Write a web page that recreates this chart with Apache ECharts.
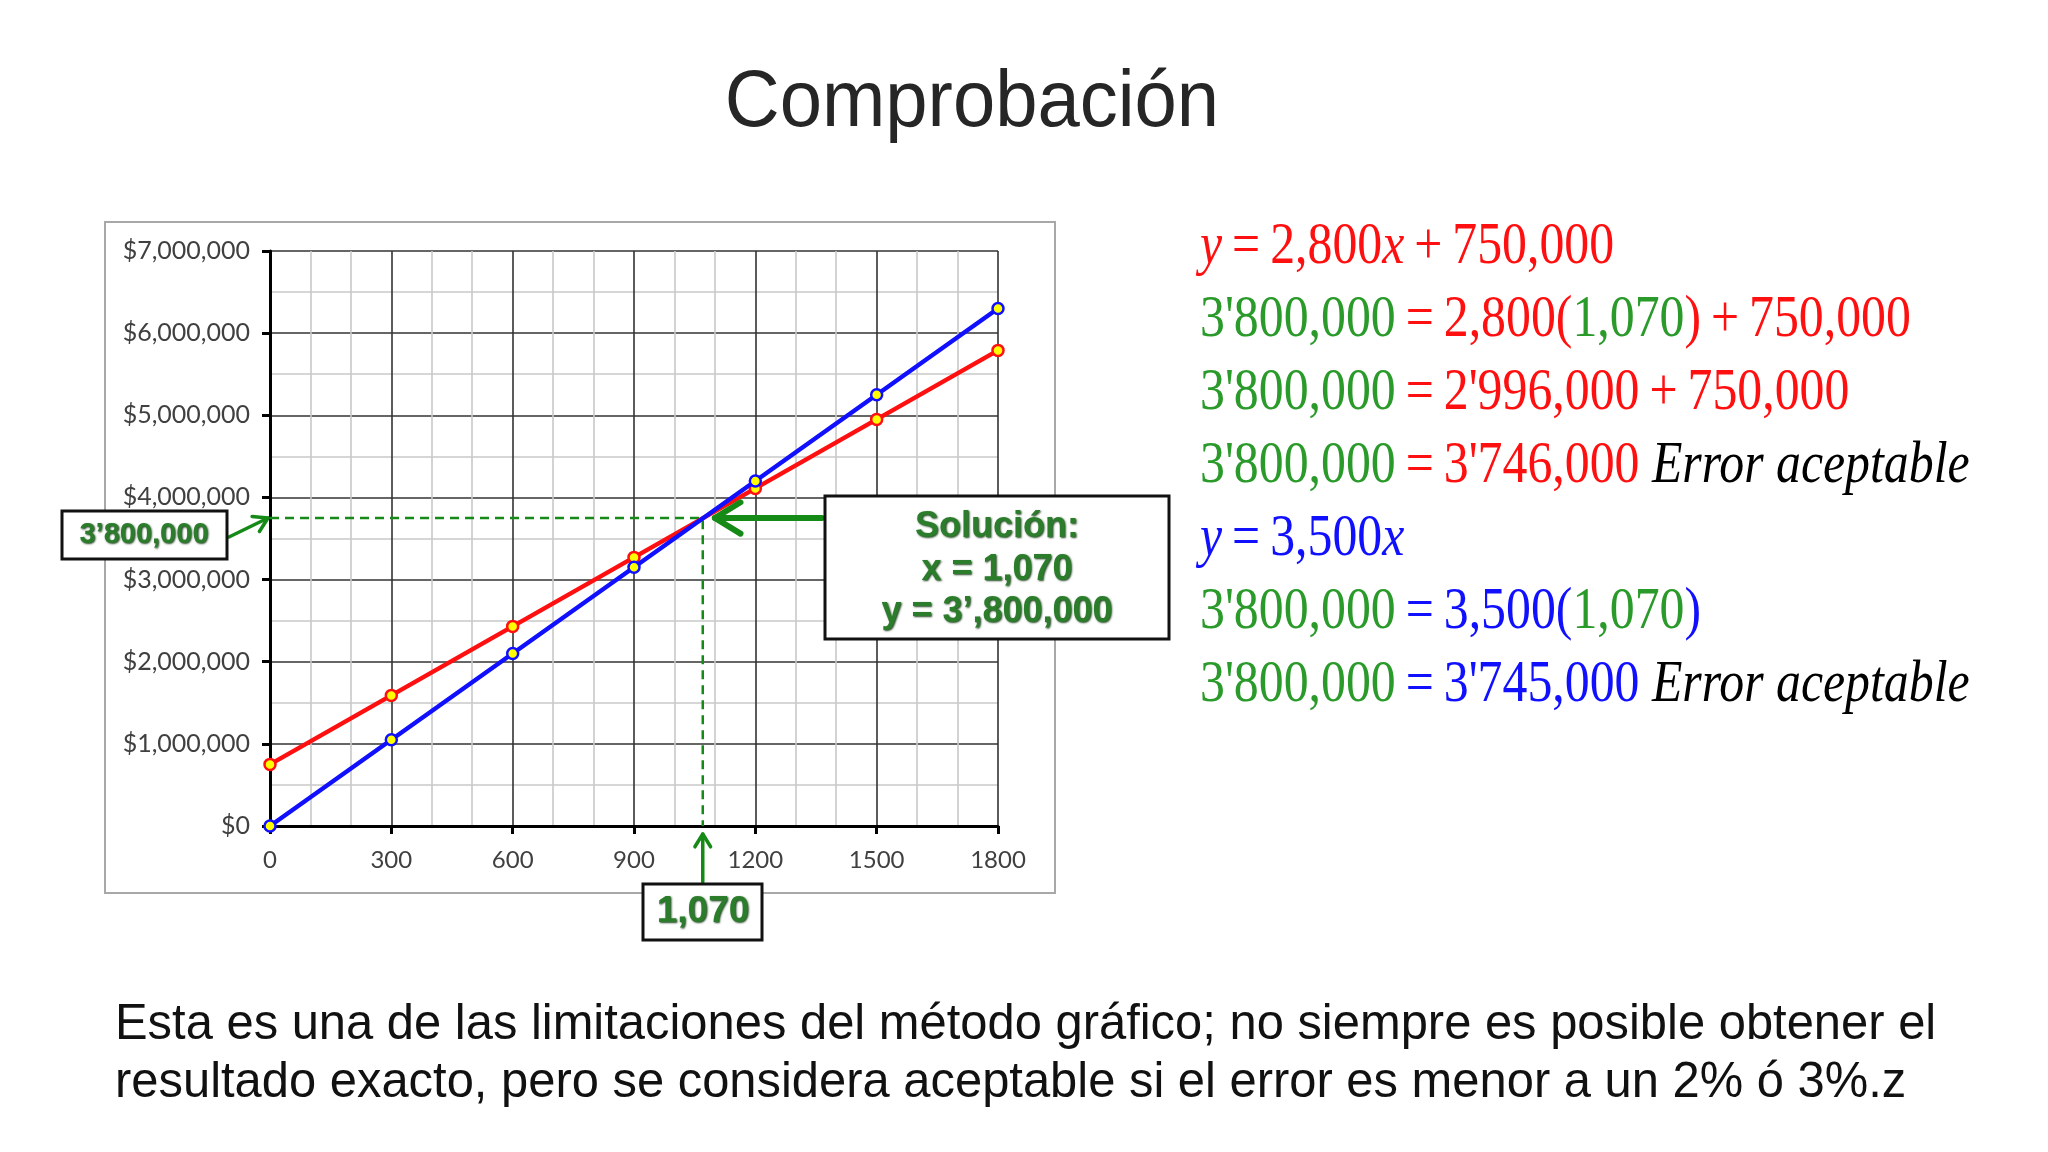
<!DOCTYPE html>
<html>
<head>
<meta charset="utf-8">
<script src="https://cdn.jsdelivr.net/npm/echarts@6/dist/echarts.min.js"></script>
<style>
html,body{margin:0;padding:0;background:#fff;}
#c{width:2048px;height:1152px;}
</style>
</head>
<body>
<div id="c"></div>
<script>
// ---- data ----
const xValues = [0, 300, 600, 900, 1200, 1500, 1800];
const costoValues = [750000, 1590000, 2430000, 3270000, 4110000, 4950000, 5790000];   // red line
const ingresoValues = [0, 1050000, 2100000, 3150000, 4200000, 5250000, 6300000];      // blue line
const guideX = 1070;        // vertical dashed guide
const guideY = 3750000;     // horizontal dashed guide
const arrowTipX = 1100;     // where the "Solución" arrow points
const xMax = 1800, xStep = 300;
const yMax = 7000000, yStep = 1000000;

const titleText = 'Comprobación';
const noteLines = [
  'Esta es una de las limitaciones del método gráfico; no siempre es posible obtener el',
  'resultado exacto, pero se considera aceptable si el error es menor a un 2% ó 3%.z'
];
const boxY = '3’800,000';
const boxX = '1,070';
const solLines = ['Solución:', 'x = 1,070', 'y = 3’,800,000'];
const T = '\u2009';
const eqLines = [
  '{ri|y}{r|' + T + '=' + T + '2,800}{ri|x}{r|' + T + '+' + T + '750,000}',
  "{g|3'800,000}{r|" + T + '=' + T + '2,800(}{g|1,070}{r|)' + T + '+' + T + '750,000}',
  "{g|3'800,000}{r|" + T + '=' + T + "2'996,000" + T + '+' + T + '750,000}',
  "{g|3'800,000}{r|" + T + '=' + T + "3'746,000}{k| Error aceptable}",
  '{bi|y}{b|' + T + '=' + T + '3,500}{bi|x}',
  "{g|3'800,000}{b|" + T + '=' + T + '3,500(}{g|1,070}{b|)}',
  "{g|3'800,000}{b|" + T + '=' + T + "3'745,000}{k| Error aceptable}"
];

const RED = '#ff1010', BLUE = '#1010ff', GREEN = '#2a9a2a', DGREEN = '#2b7d2b', ARROWG = '#168a16';

const chart = echarts.init(document.getElementById('c'), null, {renderer: 'canvas'});

const lblFont = 'Lato, "Open Sans", sans-serif';
chart.setOption({
  animation: false,
  backgroundColor: '#ffffff',
  grid: {left: 270, top: 251, width: 728, height: 575, containLabel: false},
  xAxis: {
    type: 'value', min: 0, max: xMax, interval: xStep,
    axisLine: {show: true, onZero: false, lineStyle: {color: '#000', width: 3}},
    axisTick: {show: true, length: 8, lineStyle: {color: '#000', width: 3}},
    axisLabel: {margin: 22, color: '#404040', fontFamily: lblFont, fontSize: 24,
      formatter: v => String(v)},
    splitLine: {show: true, lineStyle: {color: '#333', width: 1.6}},
    minorTick: {show: false, splitNumber: 3},
    minorSplitLine: {show: true, lineStyle: {color: '#c8c8c8', width: 1.6}}
  },
  yAxis: {
    type: 'value', min: 0, max: yMax, interval: yStep,
    axisLine: {show: true, onZero: false, lineStyle: {color: '#000', width: 3}},
    axisTick: {show: true, length: 8, lineStyle: {color: '#000', width: 3}},
    axisLabel: {margin: 20, color: '#404040', fontFamily: lblFont, fontSize: 25,
      formatter: v => '$' + v.toLocaleString('en-US')},
    splitLine: {show: true, lineStyle: {color: '#333', width: 1.6}},
    minorTick: {show: false, splitNumber: 2},
    minorSplitLine: {show: true, lineStyle: {color: '#c8c8c8', width: 1.6}}
  },
  series: [
    {
      type: 'line', name: 'guia', silent: true, z: 3,
      data: [[0, guideY], [guideX, guideY], [guideX, 0]],
      symbol: 'none',
      lineStyle: {color: ARROWG, width: 2.5, type: [9, 6]}
    },
    {
      type: 'line', name: 'costo', z: 4,
      data: xValues.map((x, i) => [x, costoValues[i]]),
      symbol: 'circle', symbolSize: 11,
      lineStyle: {color: RED, width: 4.5},
      itemStyle: {color: '#ffff00', borderColor: RED, borderWidth: 2.5}
    },
    {
      type: 'line', name: 'ingreso', z: 5,
      data: xValues.map((x, i) => [x, ingresoValues[i]]),
      symbol: 'circle', symbolSize: 11,
      lineStyle: {color: BLUE, width: 4.5},
      itemStyle: {color: '#ffff00', borderColor: BLUE, borderWidth: 2.5}
    }
  ]
});

// ---- annotations positioned from the axes ----
const pGuide = chart.convertToPixel({gridIndex: 0}, [0, guideY]);
const pTip = chart.convertToPixel({gridIndex: 0}, [arrowTipX, guideY]);
const pX = chart.convertToPixel({gridIndex: 0}, [guideX, 0]);

function arrow(x1, y1, x2, y2, w, head, color) {
  const a = Math.atan2(y2 - y1, x2 - x1);
  const sp = 0.55;
  const h1 = [x2 - head * Math.cos(a - sp), y2 - head * Math.sin(a - sp)];
  const h2 = [x2 - head * Math.cos(a + sp), y2 - head * Math.sin(a + sp)];
  return [
    {type: 'line', z: 50, shape: {x1, y1, x2, y2}, style: {stroke: color, lineWidth: w, lineCap: 'round'}},
    {type: 'polyline', z: 50, shape: {points: [h1, [x2, y2], h2]},
      style: {stroke: color, lineWidth: w, lineCap: 'round', lineJoin: 'round', fill: null}}
  ];
}

function boxText(txt, cx, cy, size) {
  return {type: 'text', z: 61, x: cx, y: cy,
    style: {text: txt, fill: DGREEN, font: 'bold ' + size + 'px "Liberation Sans", Arial, sans-serif',
      textAlign: 'center', textVerticalAlign: 'middle',
      textShadowColor: 'rgba(10,50,10,0.9)', textShadowBlur: 2, textShadowOffsetX: 1, textShadowOffsetY: 1}};
}

const serif = '"Liberation Serif", "Times New Roman", serif';
const eqFont = 60;
const rich = {
  r: {fill: RED, font: eqFont + 'px ' + serif},
  ri: {fill: RED, font: 'italic ' + eqFont + 'px ' + serif},
  g: {fill: GREEN, font: eqFont + 'px ' + serif},
  b: {fill: BLUE, font: eqFont + 'px ' + serif},
  bi: {fill: BLUE, font: 'italic ' + eqFont + 'px ' + serif},
  k: {fill: '#000', font: 'italic ' + eqFont + 'px ' + serif}
};
const eqY0 = 247, eqDY = 73.1;

const graphics = [
  // title
  {type: 'text', x: 972, y: 104, scaleX: 0.95,
    style: {text: titleText, fill: '#262626', font: '80px "Liberation Sans", Arial, sans-serif',
      textAlign: 'center', textVerticalAlign: 'middle'}},
  // chart frame
  {type: 'rect', z: -1, shape: {x: 105, y: 222, width: 950, height: 671},
    style: {fill: null, stroke: '#a8a8a8', lineWidth: 2}},
  // box for y value
  {type: 'rect', z: 60, shape: {x: 62, y: 511, width: 165, height: 48},
    style: {fill: '#fff', stroke: '#111', lineWidth: 3}},
  boxText(boxY, 144, 535, 29),
  // solution box
  {type: 'rect', z: 60, shape: {x: 825, y: 496, width: 344, height: 143},
    style: {fill: '#fff', stroke: '#111', lineWidth: 3}},
  boxText(solLines[0], 997, 527, 36),
  boxText(solLines[1], 997, 570, 36),
  boxText(solLines[2], 997, 612, 36),
  // x value box
  {type: 'rect', z: 60, shape: {x: 643, y: 884, width: 119, height: 56},
    style: {fill: '#fff', stroke: '#111', lineWidth: 3}},
  boxText(boxX, 703, 912, 37)
];
graphics.push(...arrow(229, 537, pGuide[0] - 2, pGuide[1], 3.5, 16, ARROWG));
graphics.push(...arrow(822, pTip[1], pTip[0], pTip[1], 6, 30, ARROWG));
graphics.push(...arrow(pX[0], 882, pX[0], pX[1] + 8, 3.5, 15, ARROWG));

eqLines.forEach((t, i) => {
  graphics.push({type: 'text', x: 1200, y: eqY0 + eqDY * i, scaleX: 0.83,
    style: {text: t, rich, textAlign: 'left', textVerticalAlign: 'middle'}});
});

noteLines.forEach((t, i) => {
  graphics.push({type: 'text', x: 115, y: 1025 + 58 * i, scaleX: 0.978,
    style: {text: t, fill: '#111', font: '50px "Liberation Sans", Arial, sans-serif',
      textAlign: 'left', textVerticalAlign: 'middle'}});
});

chart.setOption({graphic: graphics});
</script>
</body>
</html>
